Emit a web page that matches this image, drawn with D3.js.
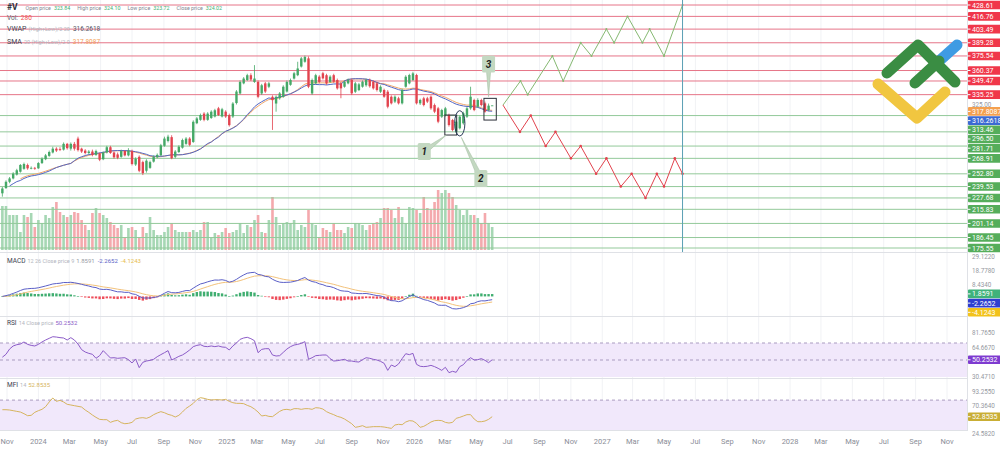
<!DOCTYPE html>
<html>
<head>
<meta charset="utf-8">
<title>#V weekly</title>
<script src="https://cdn.jsdelivr.net/npm/d3@7"></script>
<style>
  body { margin: 0; background: #fff; }
  svg { display: block; font-family: Roboto, "Open Sans", "DejaVu Sans", sans-serif; }
</style>
</head>
<body>
<svg id="chart" width="1000" height="449"></svg>
<script>
// weekly bars, first one is the week of 23 Oct 2023
var firstWeek = "2023-10-23";

var opens = [232.5,238,244.5,248,252,255,258,262,258.5,259,
  258.5,264,268,271.5,275,279,278.5,278,284,279,
  284,289.5,279,277,274.5,276,272.5,274,268,275,
  280.5,275,273,270.5,276.5,272,276.5,262.5,270.5,265,
  256,259,265.5,270,272,282,287,291,270.5,275.5,
  280,284,289.5,286,305.5,309,315.5,309,311,312.5,
  321,312.5,317.5,314,312.5,326.5,336.5,347,350.5,355.5,
  348.5,348.5,336.5,347,343.5,333,326,331.5,333,338.5,
  345.5,352,355.5,364.5,369.5,373,336.5,347,354,357.5,
  355.5,348.5,355.5,350.5,347,343.5,347,350.5,338.3,340,
  343.5,345,350.5,348.7,347,338.3,340.1,338.3,333.1,328,
  331.4,326.2,343.5,347,350.5,355.7,326.2,331.4,331.4,333.1,
  324.4,321,312.3,314,314,308.8,296.7,300.2,305.4,312.3,
  321,329.7,322.7,329.7,326.2,319.2,323.84];

var highs = [239,246,249.5,254.5,258,263,264.5,263.5,260.5,260,
  265,270,273.5,277,281,280.5,280.5,285.5,285,285.5,
  286,291.5,280,278.5,277.5,278,278,275,276,282,
  282,276,275,278,277.5,279.5,278,270,272,266.5,
  268,266.5,272,274,284,291.5,293.5,293,277.5,282.5,
  289.5,291,291,308.5,312,315.5,317,317,319,320.5,
  322.5,321.5,319,315.5,327.5,340,350,353.5,357,357.5,
  366,350,346.5,348.5,348.5,334.5,334.5,338,345,350,
  352,359,369.5,374.5,376,375,352,357,355.5,359,
  357,355.5,357,352,348.5,350,352,352,348.5,347.5,
  350,352,352,350,348.5,345,341.5,340,334.5,334.5,
  333,341.5,355.5,357,359,357,331,333,333,334.5,
  326,322.5,320.5,322.5,315.5,310,308.5,313.5,317.5,322.5,
  343.5,331,331.5,331,328,326,324.10];

var lows = [229,237,243,247,251,254,257,257,257.5,257,
  258,263,267,270.5,274,275.5,276.5,277,278,277,
  277,276,274.5,273,273,271,271.5,266,267,274,
  273.5,268.5,268,269.5,271,271,261.5,261,254.5,251.5,
  254,258,264.5,269,271.5,281,285.5,268,269,274.5,
  279,283,281.5,285,304.5,308,307.5,308,310,311.5,
  313,311.5,311,302,311,325,335.5,346,349.5,349.5,
  347.5,331.5,335,337,342,298.5,317.5,330,332,337.5,
  344.5,351,354.5,363.5,368.5,342,335,346,347,351,
  345.5,347.5,347.5,340.5,331.5,342.5,346,335,337,339,
  342.5,343.5,342.5,340.5,338.5,337,332,321,325,326.5,
  325,325,342.5,346,349.5,325,324.5,323,326.5,319.5,
  316,305.5,311,312.5,302,297,295.5,299,304,311,
  319.5,318,321.5,323,316.5,318,323.72];

var closes = [237.5,244.5,248,253,256.5,262,263,258.5,259,258.5,
  264,268.5,272,275.5,279,277,278,284,279.5,284,
  279,277.5,276,274.5,276,272.5,276.5,267.5,275,280.5,
  274.5,270,269.5,276.5,272,277,263,268.5,256,253.5,
  266.5,265,270.5,272.5,282.5,289.5,291.5,269,276,281,
  288,289.5,283,307,310.5,314,309,315.5,317.5,319,
  314,320,312.5,303.5,326,338.5,348.5,352,355.5,351,
  352,333,345,338.5,347,329.5,333,336.5,343.5,348.5,
  350.5,357.5,362.5,373,374.5,343.5,350.5,355.5,348.5,352.2,
  347,354,348.7,341.8,341.8,348.7,350.5,336.6,347,346,
  348.7,350.5,344,341.8,340.1,343.5,333.1,322.7,326.2,333.1,
  326.2,340.1,353.9,355.7,357.4,326.2,329.7,324.4,328,321,
  317.5,307.1,319.2,321,303.6,298.4,307.1,312.3,315.8,321,
  333.1,319.2,329.7,324.4,317.5,323.8,324.02];

var volumes = [44,44,35,35,35,18,35,33,37,23,30,27,35,32,43,48,38,35,33,35,
  38,37,30,25,20,37,42,37,35,32,28,25,22,25,13,22,23,20,13,23,
  17,33,20,15,15,18,23,27,20,18,18,18,18,20,18,20,28,28,12,17,
  15,18,22,17,18,20,27,17,25,23,30,35,18,17,30,53,33,25,27,28,
  27,30,20,25,23,40,27,25,13,22,20,18,
  27,20,20,17,23,22,27,27,25,20,25,27,28,32,42,42,40,32,43,33,
  27,43,42,40,37,53,42,40,48,60,57,60,57,53,45,40,35,40,35,35,
  32,27,37,27,23];

var rsiValues = [53.3,56.7,62.9,66.5,68.0,68.8,71.2,68.4,67.2,66.5,
  68.4,71.2,73.5,75.5,77.4,77.0,76.3,75.9,73.5,76.3,
  73.5,68.8,62.2,59.4,57.8,56.7,52.0,55.1,61.0,56.7,
  52.4,52.7,52.0,52.4,52.7,50.4,46.5,51.2,41.0,47.3,
  48.8,49.6,50.8,53.9,56.3,58.6,61.0,50.0,52.0,54.3,
  55.9,58.6,61.8,65.7,67.2,68.0,66.1,65.7,66.5,65.7,
  66.5,65.3,64.9,61.8,66.5,70.0,74.3,75.9,76.7,75.1,
  72.7,58.6,62.5,63.3,63.3,55.9,54.7,55.1,59.0,62.9,
  65.7,67.6,68.4,69.6,71.6,50.8,52.7,55.1,55.5,55.9,
  55.9,51.6,48.8,49.2,50.0,50.8,48.8,48.8,48.0,47.6,
  50.4,52.7,52.0,50.8,50.0,48.4,46.1,37.8,44.1,42.2,
  45.3,51.6,57.4,56.3,57.8,44.9,42.6,42.2,42.6,43.7,
  42.2,40.2,37.8,41.4,35.1,36.7,35.5,42.2,44.5,49.6,
  52.7,50.0,50.4,51.6,49.6,46.9,50.3];

var mfiValues = [64.3,64.3,63.8,62.7,61.6,60.5,57.8,54.5,55.1,60.0,
  62.7,64.9,69.2,76.9,83.4,78.0,79.6,76.9,73.1,72.0,
  70.9,69.8,68.7,63.8,60.0,55.6,51.8,48.5,48.0,48.0,
  43.6,45.8,46.9,43.1,41.4,42.0,43.6,49.1,50.7,51.3,
  50.2,52.4,56.2,58.9,61.1,59.4,56.7,55.1,52.4,55.1,
  60.5,66.5,70.3,74.7,80.7,84.0,82.9,81.2,80.2,80.7,
  80.7,80.2,81.2,78.0,75.8,74.7,74.7,74.2,71.4,69.2,
  65.4,60.5,54.0,55.1,53.4,52.9,57.3,61.6,64.3,64.9,
  63.8,66.0,66.0,64.9,66.0,66.0,64.9,67.6,67.1,65.4,
  61.1,58.4,56.2,53.4,51.8,49.1,45.3,41.4,35.5,36.6,
  38.2,35.5,36.0,36.6,36.6,36.6,36.0,34.9,33.8,39.3,
  40.4,39.8,44.2,46.4,45.8,42.0,35.5,37.1,40.4,44.2,
  46.4,46.9,46.4,43.6,42.5,43.6,50.2,51.8,54.0,56.2,
  56.2,49.1,44.7,44.7,45.8,48.5,52.9];

// horizontal levels
var resistanceLevels = [428.61,416.76,403.49,389.28,375.54,360.37,349.47,335.25];
var supportLevels = [313.46,296.50,281.71,268.91,252.80,239.53,227.68,215.83,201.14,186.45,175.55];

// forecast zigzags
var bullDates = ["2026-06-22","2026-07-26","2026-08-09","2026-09-26","2026-10-17","2026-11-20","2026-12-11",
  "2027-01-09","2027-01-24","2027-02-19","2027-03-20","2027-04-03","2027-05-01","2027-06-06"];
var bullPrices = [324.4,349.47,335.25,375.54,349.47,389.28,375.54,403.49,389.28,416.76,389.28,403.49,375.54,428.61];
var bearDates = ["2026-06-22","2026-07-25","2026-08-15","2026-09-13","2026-10-02","2026-11-01","2026-11-20",
  "2026-12-20","2027-01-09","2027-02-06","2027-02-27","2027-03-26","2027-04-17","2027-05-01","2027-05-22","2027-06-06"];
var bearPrices = [324.4,296.50,313.46,281.71,296.50,268.91,281.71,252.80,268.91,239.53,252.80,227.68,252.80,239.53,268.91,252.80];
var targetDate = "2027-06-06";

// annotations
var boxFrom = ["2026-03-01","2026-05-16"];
var boxTo = ["2026-03-24","2026-06-09"];
var boxTop = [314.0,331.4];
var boxBottom = [293.2,308.8];
var ovalDate = "2026-03-30", ovalPrice = 305.4, ovalDays = 10, ovalSpan = 13.2;
var calloutLabels = ["1","2","3"];
var calloutDates = ["2026-01-20","2026-05-10","2026-05-25"];
var calloutPrices = [276.0,247.9,367.1];
var calloutTipDates = ["2026-03-04","2026-04-02","2026-05-25"];
var calloutTipPrices = [293.2,290.8,333.1];

// axis tick values
var priceTicks = d3.range(175, 431, 15);
var macdTicks = [29.122,18.778,8.434,-1.91,-12.254];
var rsiTicks = [98.863,81.765,64.667,47.569,30.471];
var mfiTicks = [93.255,70.364,47.473,24.582];

var parse = d3.timeParse("%Y-%m-%d");
var start = parse(firstWeek);
var dates = closes.map(function(c, i) { return d3.timeDay.offset(start, i * 7); });

var svg = d3.select("#chart");
var axisX = 967;

var x = d3.scaleTime().domain([new Date(2023, 10, 1), new Date(2028, 10, 1)]).range([7, 947]);
var y = d3.scaleLinear().domain([175.55, 428.61]).range([248, 5]);
var yVol = d3.scaleLinear().domain([0, 62]).range([250, 188]);
var yMacd = d3.scaleLinear().domain([-12.254, 29.122]).range([313, 257]);
var yRsi = d3.scaleLinear().domain([30, 70]).range([377, 343]);
var yMfi = d3.scaleLinear().domain([70.364, 93.255]).range([406, 392]);

var panels = { main: [0, 252], macd: [253, 316], rsi: [317, 378], mfi: [379, 430] };
var defs = svg.append("defs");
Object.keys(panels).forEach(function(k) {
  defs.append("clipPath").attr("id", "clip-" + k).append("rect")
    .attr("x", 0).attr("y", panels[k][0]).attr("width", axisX).attr("height", panels[k][1] - panels[k][0]);
});

// vertical grid
var monthTicks = d3.timeMonth.every(2).range(new Date(2023, 10, 1), new Date(2028, 11, 1));
svg.append("g").selectAll("line").data(monthTicks).enter().append("line")
  .attr("x1", function(d) { return x(d); }).attr("x2", function(d) { return x(d); })
  .attr("y1", 0).attr("y2", 430)
  .attr("stroke", "#f1f2f5").attr("stroke-width", 1);

// RSI / MFI bands
var gRsi = svg.append("g").attr("clip-path", "url(#clip-rsi)");
gRsi.append("rect").attr("x", 0).attr("width", axisX)
  .attr("y", yRsi(70)).attr("height", yRsi(30) - yRsi(70)).attr("fill", "#f1e8fb");
[70, 50].forEach(function(v) {
  gRsi.append("line").attr("x1", 0).attr("x2", axisX).attr("y1", yRsi(v)).attr("y2", yRsi(v))
    .attr("stroke", "#a99bc0").attr("stroke-dasharray", "3,3");
});
var gMfi = svg.append("g").attr("clip-path", "url(#clip-mfi)");
gMfi.append("rect").attr("x", 0).attr("width", axisX)
  .attr("y", yMfi(80)).attr("height", 430 - yMfi(80)).attr("fill", "#f1e8fb");
gMfi.append("line").attr("x1", 0).attr("x2", axisX).attr("y1", yMfi(80)).attr("y2", yMfi(80))
  .attr("stroke", "#a99bc0").attr("stroke-dasharray", "3,3");

// panel separators
[252.5, 316.5, 378.5, 430.5].forEach(function(v) {
  svg.append("line").attr("x1", 0).attr("x2", axisX).attr("y1", v).attr("y2", v)
    .attr("stroke", "#dfe1e6");
});
svg.append("line").attr("x1", axisX + 0.5).attr("x2", axisX + 0.5).attr("y1", 0).attr("y2", 431)
  .attr("stroke", "#dfe1e6");

// ---- main panel ----
var gMain = svg.append("g").attr("clip-path", "url(#clip-main)");
var idx = d3.range(closes.length);
function isUp(i) { return closes[i] >= opens[i]; }

gMain.append("g").selectAll("rect").data(idx).enter().append("rect")
  .attr("x", function(i) { return x(dates[i]) - 1.3; })
  .attr("width", 2.6)
  .attr("y", function(i) { return yVol(volumes[i]); })
  .attr("height", function(i) { return yVol(0) - yVol(volumes[i]); })
  .attr("fill", function(i) { return isUp(i) ? "#a6d7b4" : "#f4a9ad"; });

gMain.append("g").selectAll("line").data(resistanceLevels).enter().append("line")
  .attr("x1", 0).attr("x2", axisX).attr("y1", function(d) { return y(d); }).attr("y2", function(d) { return y(d); })
  .attr("stroke", "#e67588").attr("stroke-width", 1);
gMain.append("g").selectAll("line").data(supportLevels).enter().append("line")
  .attr("x1", 0).attr("x2", axisX).attr("y1", function(d) { return y(d); }).attr("y2", function(d) { return y(d); })
  .attr("stroke", "#93c99a").attr("stroke-width", 1);

// moving averages
var hl2 = idx.map(function(i) { return (highs[i] + lows[i]) / 2; });
var sma = idx.map(function(i) { return d3.mean(hl2.slice(Math.max(0, i - 19), i + 1)); });
var vwap = idx.map(function(i) {
  var s = Math.max(0, i - 19), pv = 0, v = 0;
  for (var k = s; k <= i; k++) { pv += hl2[k] * volumes[k]; v += volumes[k]; }
  return pv / v;
});
var priceLine = d3.line().x(function(d) { return x(dates[d[0]]); }).y(function(d) { return y(d[1]); });
gMain.append("path").datum(idx.filter(function(i) { return i >= 5; }).map(function(i) { return [i, sma[i]]; }))
  .attr("d", priceLine).attr("fill", "none").attr("stroke", "#f2a86a").attr("stroke-width", 1);
gMain.append("path").datum(idx.filter(function(i) { return i >= 2; }).map(function(i) { return [i, vwap[i]]; }))
  .attr("d", priceLine).attr("fill", "none").attr("stroke", "#5467c4").attr("stroke-width", 1);

// candles
var candle = gMain.append("g").selectAll("g").data(idx).enter().append("g");
candle.append("line")
  .attr("x1", function(i) { return x(dates[i]); }).attr("x2", function(i) { return x(dates[i]); })
  .attr("y1", function(i) { return y(highs[i]); }).attr("y2", function(i) { return y(lows[i]); })
  .attr("stroke", function(i) { return isUp(i) ? "#45a867" : "#e2434e"; }).attr("stroke-width", 0.8);
candle.append("rect")
  .attr("x", function(i) { return x(dates[i]) - 1.2; }).attr("width", 2.4)
  .attr("y", function(i) { return y(Math.max(opens[i], closes[i])); })
  .attr("height", function(i) { return Math.max(0.8, Math.abs(y(opens[i]) - y(closes[i]))); })
  .attr("fill", function(i) { return isUp(i) ? "#45a867" : "#e2434e"; });

// forecast paths
var bull = bullDates.map(function(d, i) { return [parse(d), bullPrices[i]]; });
var bear = bearDates.map(function(d, i) { return [parse(d), bearPrices[i]]; });
var zig = d3.line().x(function(d) { return x(d[0]); }).y(function(d) { return y(d[1]); });
gMain.append("path").datum(bull).attr("d", zig).attr("fill", "none").attr("stroke", "#86b972").attr("stroke-width", 1);
gMain.append("path").datum(bear).attr("d", zig).attr("fill", "none").attr("stroke", "#e2434e").attr("stroke-width", 1);
gMain.append("g").selectAll("circle").data(bear.slice(1)).enter().append("circle")
  .attr("cx", function(d) { return x(d[0]); }).attr("cy", function(d) { return y(d[1]); })
  .attr("r", 1.3).attr("fill", "#e2434e");
gMain.append("g").selectAll("circle").data(bull.slice(1)).enter().append("circle")
  .attr("cx", function(d) { return x(d[0]); }).attr("cy", function(d) { return y(d[1]); })
  .attr("r", 1).attr("fill", "#86b972");
svg.append("line").attr("x1", x(parse(targetDate))).attr("x2", x(parse(targetDate)))
  .attr("y1", 0).attr("y2", 252).attr("stroke", "#5a9fb4").attr("stroke-width", 1);

// annotations
var gAnn = svg.append("g");
boxFrom.forEach(function(d, i) {
  gAnn.append("rect")
    .attr("x", x(parse(d))).attr("width", x(parse(boxTo[i])) - x(parse(d)))
    .attr("y", y(boxTop[i])).attr("height", y(boxBottom[i]) - y(boxTop[i]))
    .attr("fill", "none").attr("stroke", "#2b2f38").attr("stroke-width", 1);
});
var oc = parse(ovalDate);
gAnn.append("ellipse")
  .attr("cx", x(oc)).attr("cy", y(ovalPrice))
  .attr("rx", x(d3.timeDay.offset(oc, ovalDays)) - x(oc))
  .attr("ry", y(ovalPrice - ovalSpan) - y(ovalPrice))
  .attr("fill", "none").attr("stroke", "#2c3e5a").attr("stroke-width", 1);
calloutLabels.forEach(function(lbl, i) {
  var cx = x(parse(calloutDates[i])), cy = y(calloutPrices[i]);
  var tx = x(parse(calloutTipDates[i])), ty = y(calloutTipPrices[i]);
  var dx = tx - cx, dy = ty - cy, len = Math.sqrt(dx * dx + dy * dy);
  var px = -dy / len * 2.6, py = dx / len * 2.6;
  gAnn.append("path")
    .attr("d", "M" + (cx + px) + "," + (cy + py) + "L" + tx + "," + ty + "L" + (cx - px) + "," + (cy - py) + "Z")
    .attr("fill", "#c3d8c1").attr("stroke", "#a9c3a7").attr("stroke-width", 0.6);
  gAnn.append("rect").attr("x", cx - 6.5).attr("y", cy - 8.5).attr("width", 13).attr("height", 17)
    .attr("rx", 1.5).attr("fill", "#c3d8c1");
  gAnn.append("text").attr("x", cx).attr("y", cy + 3.6).attr("text-anchor", "middle")
    .attr("font-size", 10).attr("font-weight", "bold").attr("font-style", "italic")
    .attr("fill", "#1e1e1e").text(lbl);
});

// ---- MACD ----
function ema(arr, n) {
  var k = 2 / (n + 1), prev = arr[0];
  return arr.map(function(v, i) { prev = i === 0 ? v : v * k + prev * (1 - k); return prev; });
}
var e12 = ema(closes, 12), e26 = ema(closes, 26);
var macd = idx.map(function(i) { return e12[i] - e26[i]; });
var signal = ema(macd, 9);
var gMacd = svg.append("g").attr("clip-path", "url(#clip-macd)");
gMacd.append("g").selectAll("rect").data(idx).enter().append("rect")
  .attr("x", function(i) { return x(dates[i]) - 1.2; }).attr("width", 2.4)
  .attr("y", function(i) { return Math.min(yMacd(0), yMacd(macd[i] - signal[i])); })
  .attr("height", function(i) { return Math.max(0.6, Math.abs(yMacd(macd[i] - signal[i]) - yMacd(0))); })
  .attr("fill", function(i) { return macd[i] - signal[i] >= 0 ? "#3fae70" : "#ee4d5a"; });
var macdLine = function(arr) {
  return d3.line().x(function(i) { return x(dates[i]); }).y(function(i) { return yMacd(arr[i]); })(idx);
};
gMacd.append("path").attr("d", macdLine(signal)).attr("fill", "none").attr("stroke", "#f3c27a").attr("stroke-width", 1);
gMacd.append("path").attr("d", macdLine(macd)).attr("fill", "none").attr("stroke", "#5b5fc7").attr("stroke-width", 1);

// ---- RSI / MFI ----
gRsi.append("path").datum(idx)
  .attr("d", d3.line().x(function(i) { return x(dates[i]); }).y(function(i) { return yRsi(rsiValues[i]); }))
  .attr("fill", "none").attr("stroke", "#8c5cc8").attr("stroke-width", 1);
gMfi.append("path").datum(idx)
  .attr("d", d3.line().x(function(i) { return x(dates[i]); }).y(function(i) { return yMfi(mfiValues[i]); }))
  .attr("fill", "none").attr("stroke", "#d6b45e").attr("stroke-width", 1);

// ---- x axis labels ----
var fmtMonth = d3.timeFormat("%b"), fmtYear = d3.timeFormat("%Y");
svg.append("g").selectAll("text").data(monthTicks).enter().append("text")
  .attr("x", function(d) { return x(d); }).attr("y", 444).attr("text-anchor", "middle")
  .attr("font-size", 7.5).attr("fill", "#8b8e98")
  .text(function(d) { return d.getMonth() === 0 ? fmtYear(d) : fmtMonth(d); });

// ---- right axis: tags first (layout), then plain tick labels that stay clear of them ----
function layoutTags(list) {
  list.sort(function(a, b) { return a.y - b.y; });
  var last = -Infinity;
  list.forEach(function(t) { t.ty = Math.max(t.y, last + 9.2); last = t.ty; });
  return list;
}
var priceTags = layoutTags(resistanceLevels.map(function(v) { return { y: y(v), text: v.toFixed(2), bg: "#f0374a" }; })
  .concat(supportLevels.map(function(v) { return { y: y(v), text: v.toFixed(2), bg: "#55ad5b" }; }))
  .concat([{ y: y(317.8087), text: "317.8087", bg: "#f4a04f" }, { y: y(316.2618), text: "316.2618", bg: "#3c6ad3" }]));
var macdTags = layoutTags([
  { y: yMacd(1.8591), text: "1.8591", bg: "#3fb27a" },
  { y: yMacd(-2.2652), text: "-2.2652", bg: "#2f3fcf" },
  { y: yMacd(-4.1243), text: "-4.1243", bg: "#f2c21b" }
]);
var rsiTags = layoutTags([{ y: yRsi(50.2532), text: "50.2532", bg: "#7e3bd0" }]);
var mfiTags = layoutTags([{ y: yMfi(52.8535), text: "52.8535", bg: "#c9ae34" }]);
var allTags = priceTags.concat(macdTags, rsiTags, mfiTags);

var gAxis = svg.append("g").attr("font-size", 6.3).attr("fill", "#9598a1");
function axisLabels(ticks, scale, digits) {
  var free = ticks.filter(function(d) {
    return allTags.every(function(t) { return Math.abs(t.ty - scale(d)) > 6.8; });
  });
  gAxis.append("g").selectAll("text").data(free).enter().append("text")
    .attr("x", axisX + 5).attr("y", function(d) { return scale(d) + 2.2; })
    .text(function(d) { return d3.format("." + digits + "f")(d); });
}
axisLabels(priceTicks, y, 2);
axisLabels(macdTicks, yMacd, 4);
axisLabels(rsiTicks, yRsi, 4);
axisLabels(mfiTicks, yMfi, 4);

var tagG = svg.append("g").selectAll("g").data(allTags).enter().append("g")
  .attr("transform", function(t) { return "translate(" + axisX + "," + t.ty + ")"; });
tagG.append("rect").attr("x", 1).attr("y", -4.3).attr("width", 33).attr("height", 8.6).attr("rx", 1)
  .attr("fill", function(t) { return t.bg; });
tagG.append("line").attr("x1", 1).attr("x2", 3.5).attr("y1", 0).attr("y2", 0).attr("stroke", "#fff");
tagG.append("text").attr("x", 5).attr("y", 2.5).attr("font-size", 7).attr("fill", "#fff")
  .text(function(t) { return t.text; });

// ---- legends (parts flow left to right: text, colour, size, weight, gap before) ----
function legend(yPos, parts) {
  var t = svg.append("text").attr("x", 7).attr("y", yPos);
  parts.forEach(function(p) {
    t.append("tspan").attr("dx", p[4] || 0).attr("font-size", p[2]).attr("font-weight", p[3] || "normal")
      .attr("fill", p[1]).text(p[0]);
  });
}
legend(10, [["#V", "#2a2e39", 8.5, "bold"], ["Open price", "#7f8390", 5.3, null, 8], ["323.84", "#3fae70", 5.3, null, 3],
  ["High price", "#7f8390", 5.3, null, 7], ["324.10", "#3fae70", 5.3, null, 3],
  ["Low price", "#7f8390", 5.3, null, 7], ["323.72", "#3fae70", 5.3, null, 3],
  ["Close price", "#7f8390", 5.3, null, 7], ["324.02", "#3fae70", 5.3, null, 3]]);
legend(20, [["Vol:", "#5d606b", 6.5], ["280", "#ef5350", 6.5, null, 3]]);
legend(31, [["VWAP", "#3d4150", 7], ["(High+Low)/2 20", "#b2b5be", 5.5, null, 2], ["316.2618", "#555866", 6.5, null, 3]]);
legend(44, [["SMA", "#3d4150", 7], ["20 (High+Low)/2 0", "#b2b5be", 5.5, null, 2], ["317.8087", "#f2a35a", 6.5, null, 3]]);
legend(263, [["MACD", "#3d4150", 6.5], ["12 26 Close price 9", "#b2b5be", 5.5, null, 2], ["1.8591", "#9a9da6", 6, null, 2],
  ["-2.2652", "#5b5fc7", 6, null, 3], ["-4.1243", "#e7bd4f", 6, null, 3]]);
legend(325, [["RSI", "#3d4150", 6.5], ["14 Close price", "#b2b5be", 5.5, null, 2], ["50.2532", "#8c5cc8", 6, null, 2]]);
legend(387, [["MFI", "#3d4150", 6.5], ["14", "#b2b5be", 5.5, null, 2], ["52.8535", "#d6b45e", 6, null, 2]]);

// ---- logo ----
var logo = svg.append("g").attr("fill", "none").attr("stroke-linecap", "round").attr("stroke-linejoin", "round")
  .attr("stroke-width", 11);
logo.append("polyline").attr("points", "878,84 917,118 945,92").attr("stroke", "#f1c640");
logo.append("polyline").attr("points", "938,62 957,45").attr("stroke", "#3f9be3");
logo.append("polyline").attr("points", "887,73 918,45 955,82").attr("stroke", "#3a8d43");
logo.append("polyline").attr("points", "915,83 939,61").attr("stroke", "#3a8d43");
</script>
</body>
</html>
